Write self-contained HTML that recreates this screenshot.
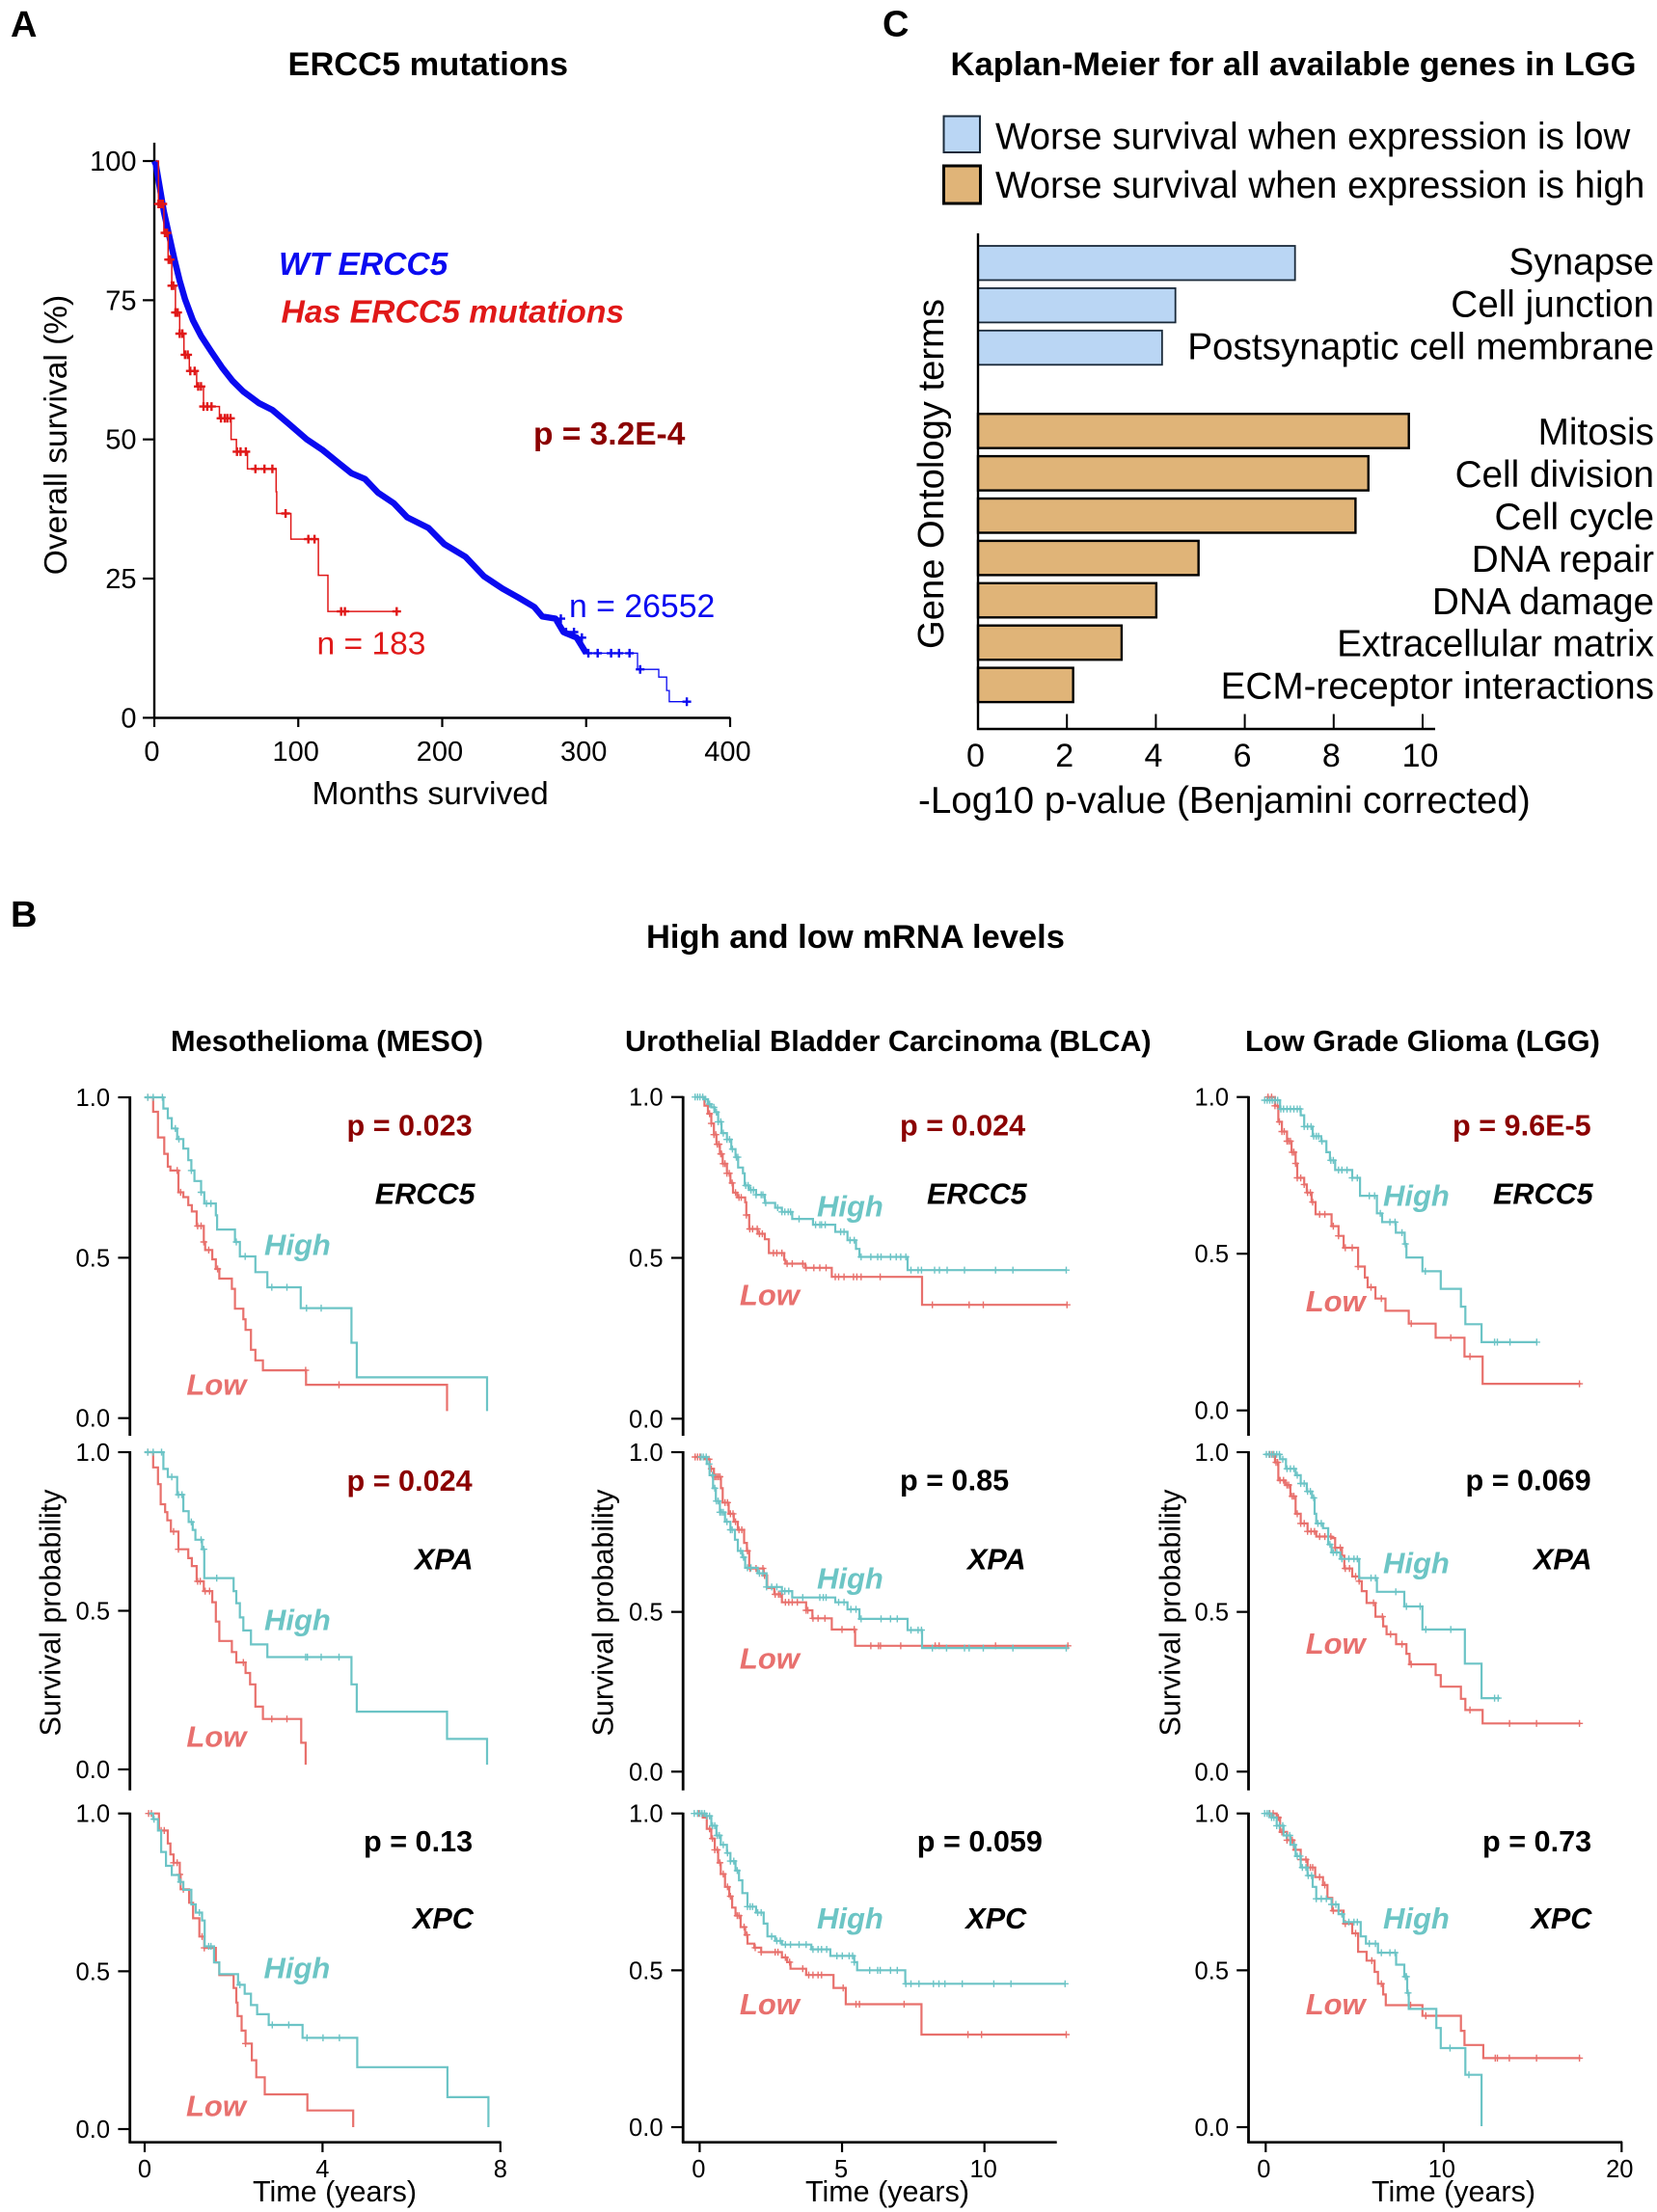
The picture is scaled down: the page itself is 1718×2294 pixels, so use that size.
<!DOCTYPE html>
<html lang="en">
<head>
<meta charset="utf-8">
<title>ERCC5 survival figure</title>
<style>
html,body{margin:0;padding:0;background:#fff;}
svg{display:block;font-family:"Liberation Sans",sans-serif;}
</style>
</head>
<body>
<svg id="fig" xmlns="http://www.w3.org/2000/svg" width="1718" height="2294" viewBox="0 0 1718 2294">
<rect x="0" y="0" width="1718" height="2294" fill="#fff"/>
<g>
<text x="11" y="38" font-size="38" font-weight="700">A</text>
<text x="298.5" y="78" font-size="34.4" font-weight="700">ERCC5 mutations</text>
<text x="289" y="285" font-size="33.6" font-weight="700" font-style="italic" fill="#0a0af0">WT ERCC5</text>
<text x="291.5" y="334.6" font-size="33.7" font-weight="700" font-style="italic" fill="#e01818">Has ERCC5 mutations</text>
<text x="553" y="461" font-size="33.5" font-weight="700" fill="#8b0000">p = 3.2E-4</text>
<text x="590" y="640" font-size="33.8" fill="#0a0af0">n = 26552</text>
<text x="328.5" y="678.5" font-size="33.6" fill="#e01818">n = 183</text>
<text x="323.5" y="834" font-size="33.7">Months survived</text>
<text transform="translate(69,451) rotate(-90)" text-anchor="middle" font-size="33.5">Overall survival (%)</text>
</g>
<g>
<text x="915" y="37.5" font-size="38" font-weight="700">C</text>
<text x="985.5" y="78" font-size="34.6" font-weight="700">Kaplan-Meier for all available genes in LGG</text>
<rect x="978.5" y="120.5" width="37.5" height="37.5" fill="#bad6f4" stroke="#1a2a3a" stroke-width="2"/>
<rect x="978.5" y="172" width="38" height="39" fill="#e0b478" stroke="#000" stroke-width="3"/>
<text x="1032" y="154.7" font-size="38.5">Worse survival when expression is low</text>
<text x="1032" y="205" font-size="38.5">Worse survival when expression is high</text>
<text x="952" y="843" font-size="38.6">-Log10 p-value (Benjamini corrected)</text>
<text transform="translate(978,491.5) rotate(-90)" text-anchor="middle" font-size="38.2">Gene Ontology terms</text>
</g>
<g>
<text x="11" y="961" font-size="38" font-weight="700">B</text>
<text x="670" y="983" font-size="34.5" font-weight="700">High and low mRNA levels</text>
<text x="177" y="1090" font-size="30.7" font-weight="700">Mesothelioma (MESO)</text>
<text x="648" y="1090" font-size="30.7" font-weight="700">Urothelial Bladder Carcinoma (BLCA)</text>
<text x="1291" y="1090" font-size="30.8" font-weight="700">Low Grade Glioma (LGG)</text>
<g font-size="30.6" font-weight="700" fill="#8b0000">
<text x="359.5" y="1177.7">p = 0.023</text>
<text x="359.5" y="1546">p = 0.024</text>
<text x="933" y="1177.7">p = 0.024</text>
<text x="1506" y="1177.7">p = 9.6E-5</text>
</g>
<g font-size="30.6" font-weight="700" fill="#000">
<text x="377" y="1920">p = 0.13</text>
<text x="933" y="1545.5">p = 0.85</text>
<text x="950.8" y="1920">p = 0.059</text>
<text x="1519.5" y="1545.5">p = 0.069</text>
<text x="1537" y="1920">p = 0.73</text>
</g>
<g font-size="30.6" font-weight="700" font-style="italic" fill="#000">
<text x="388.8" y="1248.3">ERCC5</text>
<text x="430" y="1627.7">XPA</text>
<text x="428" y="2000">XPC</text>
<text x="961" y="1248.3">ERCC5</text>
<text x="1003" y="1627.7">XPA</text>
<text x="1001.3" y="2000">XPC</text>
<text x="1548" y="1248.3">ERCC5</text>
<text x="1590" y="1627.7">XPA</text>
<text x="1587.5" y="2000">XPC</text>
</g>
<g font-size="31" font-weight="700" font-style="italic" fill="#6cc5c5">
<text x="274" y="1301.7">High</text>
<text x="274" y="1690.7">High</text>
<text x="273.5" y="2051.7">High</text>
<text x="847" y="1261.7">High</text>
<text x="847" y="1647.7">High</text>
<text x="847" y="2000">High</text>
<text x="1434" y="1250.7">High</text>
<text x="1434" y="1631.7">High</text>
<text x="1434" y="2000">High</text>
</g>
<g font-size="31" font-weight="700" font-style="italic" fill="#e8706e">
<text x="193.4" y="1446.7">Low</text>
<text x="193.4" y="1811.7">Low</text>
<text x="193" y="2194.3">Low</text>
<text x="766.9" y="1353.3">Low</text>
<text x="766.9" y="1730.7">Low</text>
<text x="766.9" y="2089">Low</text>
<text x="1353.7" y="1360">Low</text>
<text x="1353.7" y="1715">Low</text>
<text x="1353.7" y="2089">Low</text>
</g>
<g font-size="30.5">
<text transform="translate(62.4,1672.5) rotate(-90)" text-anchor="middle">Survival probability</text>
<text transform="translate(635.7,1672.5) rotate(-90)" text-anchor="middle">Survival probability</text>
<text transform="translate(1223.3,1672.5) rotate(-90)" text-anchor="middle">Survival probability</text>
</g>
<g font-size="30.5" text-anchor="middle">
<text x="347" y="2283">Time (years)</text>
<text x="920" y="2283">Time (years)</text>
<text x="1507" y="2283">Time (years)</text>
</g>
</g>
</svg>
<script>
/* ---------- Panel A: months vs % survival ---------- */
const aXTicks = [0, 100, 200, 300, 400];
const aYTicks = [0, 25, 50, 75, 100];
const wtBandMonths = [0, 1.1, 2.9, 6.6, 10.3, 14, 17.6, 21.3, 26.8, 32.4, 39.7, 47.1, 54.4, 61.8, 72.8, 82, 93, 105.9, 116.9, 127.9, 137.1, 146.3, 155.5, 166.5, 175.7, 190.4, 201.5, 216.2, 229, 241.9, 252.9, 264, 269.5, 278.7, 284.2, 293.4, 300];
const wtBandSurvival = [100, 99.4, 96.6, 90.9, 86.6, 82.3, 78.5, 75.2, 71.4, 68.6, 65.7, 62.9, 60.5, 58.6, 56.5, 55.3, 52.9, 50, 48.1, 45.8, 43.9, 42.9, 40.4, 38.5, 36, 34.1, 31.2, 28.9, 25.4, 23.2, 21.6, 19.9, 18.2, 17.8, 15.4, 14.4, 11.6];
const wtTailMonths = [300, 335.7, 350.4, 355.9, 357.7, 370.6];
const wtTailSurvival = [11.6, 8.7, 7.3, 4.9, 2.9, 2.9];
const wtTailCensored = [282.4, 286, 291.5, 297, 301.5, 308, 317.3, 322.8, 330.1, 337.5, 369.9];
const mutMonths = [1, 2.9, 6.6, 9.6, 12.1, 14.7, 17.6, 20.6, 24.3, 29.4, 34.2, 45.2, 53.3, 57, 64.7, 84.6, 85, 94.9, 114, 120.6, 169];
const mutSurvival = [100, 92.3, 87.1, 82.3, 77.6, 72.8, 69, 65.2, 62.3, 59.5, 55.9, 53.8, 50, 47.8, 44.7, 40.6, 36.7, 32.1, 25.6, 19.1, 19.1];
const mutCensored = [2.9, 4.4, 5.9, 7.4, 8.8, 9.9, 11, 12.1, 13.2, 14.7, 16.2, 17.6, 19.5, 21.3, 23.2, 25, 28, 30.5, 32.4, 34.2, 36.8, 39.7, 46.3, 48.9, 50.7, 52.9, 57.4, 59.9, 63.6, 70.2, 76.5, 82, 91.2, 107, 111.3, 129.8, 132.4, 168.4];

/* ---------- Panel C: gene ontology bars ---------- */
const goLowTerms = ["Synapse", "Cell junction", "Postsynaptic cell membrane"];
const goLowValues = [7.13, 4.44, 4.14];
const goHighTerms = ["Mitosis", "Cell division", "Cell cycle", "DNA repair", "DNA damage", "Extracellular matrix", "ECM-receptor interactions"];
const goHighValues = [9.69, 8.78, 8.49, 4.96, 4.01, 3.23, 2.14];
const goXTicks = [0, 2, 4, 6, 8, 10];

/* ---------- Panel B: Kaplan-Meier axes ---------- */
const kmYTicks = [0, 0.5, 1];
const mesoXTicks = [0, 4, 8];
const blcaXTicks = [0, 5, 10];
const lggXTicks = [0, 10, 20];

/* MESO ERCC5 */
const mesoErcc5HighT = [0, 0.42, 0.52, 0.61, 0.73, 0.87, 0.98, 1.05, 1.12, 1.27, 1.34, 1.60, 1.63, 2.03, 2.14, 2.49, 2.76, 3.51, 4.65, 4.77, 7.70];
const mesoErcc5HighS = [1, 0.965, 0.935, 0.903, 0.870, 0.840, 0.804, 0.772, 0.739, 0.704, 0.669, 0.632, 0.588, 0.549, 0.504, 0.455, 0.408, 0.343, 0.235, 0.127, 0.022];
const mesoErcc5HighC = [0.07, 0.19, 0.40, 0.69, 0.77, 1.05, 1.27, 1.39, 1.49, 2.06, 2.26, 2.86, 3.20, 3.64, 3.97];
const mesoErcc5LowT = [0.07, 0.19, 0.30, 0.44, 0.52, 0.58, 0.76, 0.87, 0.98, 1.06, 1.17, 1.33, 1.36, 1.52, 1.60, 1.68, 1.96, 2.03, 2.22, 2.27, 2.39, 2.49, 2.66, 3.63, 6.80];
const mesoErcc5LowS = [1, 0.955, 0.875, 0.824, 0.784, 0.772, 0.704, 0.689, 0.664, 0.644, 0.599, 0.549, 0.524, 0.495, 0.465, 0.435, 0.403, 0.341, 0.308, 0.275, 0.213, 0.180, 0.149, 0.104, 0.022];
const mesoErcc5LowC = [0.07, 0.73, 0.81, 1.19, 1.27, 1.33, 1.44, 1.64, 3.62, 4.37];

/* MESO XPA */
const mesoXpaHighT = [0, 0.42, 0.52, 0.73, 0.87, 0.99, 1.08, 1.14, 1.29, 1.34, 2.00, 2.06, 2.14, 2.22, 2.39, 2.76, 4.65, 4.77, 6.80, 7.70];
const mesoXpaHighS = [1, 0.947, 0.922, 0.866, 0.814, 0.780, 0.755, 0.724, 0.694, 0.603, 0.562, 0.524, 0.479, 0.438, 0.394, 0.354, 0.268, 0.182, 0.096, 0.015];
const mesoXpaHighC = [0.07, 0.19, 0.38, 0.61, 0.76, 0.84, 1.05, 1.27, 1.33, 1.62, 3.62, 3.66, 3.97, 4.37];
const mesoXpaLowT = [0.07, 0.19, 0.30, 0.36, 0.46, 0.51, 0.59, 0.76, 0.98, 1.06, 1.17, 1.33, 1.52, 1.60, 1.68, 1.96, 2.06, 2.27, 2.37, 2.49, 2.66, 3.52, 3.62];
const mesoXpaLowS = [1, 0.952, 0.899, 0.836, 0.811, 0.785, 0.750, 0.694, 0.666, 0.641, 0.593, 0.562, 0.527, 0.466, 0.405, 0.370, 0.337, 0.304, 0.268, 0.198, 0.159, 0.084, 0.015];
const mesoXpaLowC = [0.07, 0.65, 0.76, 1.19, 1.25, 1.36, 1.46, 2.22, 2.86, 3.20];

/* MESO XPC */
const mesoXpcHighT = [0.10, 0.19, 0.30, 0.37, 0.48, 0.61, 0.77, 0.87, 1.05, 1.15, 1.29, 1.35, 1.56, 1.68, 2.10, 2.25, 2.39, 2.53, 2.79, 3.55, 4.78, 6.81, 7.73];
const mesoXpcHighS = [1, 0.982, 0.946, 0.878, 0.834, 0.805, 0.783, 0.758, 0.712, 0.686, 0.661, 0.579, 0.528, 0.491, 0.457, 0.429, 0.393, 0.364, 0.330, 0.289, 0.196, 0.101, 0.006];
const mesoXpcHighC = [0.21, 0.81, 1.23, 1.44, 1.49, 2.14, 2.87, 3.24, 3.65, 4.01, 4.38];
const mesoXpcLowT = [0.07, 0.32, 0.52, 0.58, 0.65, 0.79, 0.81, 1.00, 1.09, 1.23, 1.34, 1.60, 1.68, 2.00, 2.06, 2.09, 2.18, 2.27, 2.41, 2.51, 2.70, 3.66, 4.69];
const mesoXpcLowS = [1, 0.946, 0.905, 0.870, 0.844, 0.807, 0.760, 0.717, 0.668, 0.610, 0.574, 0.528, 0.488, 0.447, 0.401, 0.358, 0.312, 0.271, 0.218, 0.164, 0.110, 0.059, 0.006];
const mesoXpcLowC = [0.09, 0.15, 0.37, 0.44, 0.65, 0.73, 0.79, 0.87, 1.29, 1.34, 2.27];

/* BLCA ERCC5 */
const blcaErcc5HighT = [-0.19, 0.17, 0.29, 0.41, 0.53, 0.65, 0.77, 0.96, 1.11, 1.26, 1.35, 1.52, 1.58, 1.74, 1.98, 2.29, 2.65, 2.89, 3.25, 3.98, 4.76, 5.19, 5.49, 5.61, 7.30, 12.87];
const blcaErcc5HighS = [1, 0.993, 0.978, 0.968, 0.953, 0.923, 0.888, 0.868, 0.838, 0.813, 0.781, 0.763, 0.725, 0.711, 0.696, 0.671, 0.656, 0.643, 0.621, 0.603, 0.581, 0.555, 0.528, 0.503, 0.462, 0.462];
const blcaErcc5HighC = [-0.16, -0.07, 0.01, 0.11, 0.21, 0.35, 0.50, 0.59, 0.65, 0.74, 0.83, 0.96, 1.05, 1.15, 1.29, 1.34, 1.62, 1.70, 1.80, 1.89, 1.98, 2.16, 2.22, 2.32, 2.74, 2.89, 2.99, 3.11, 3.19, 3.49, 4.07, 4.22, 4.28, 4.41, 4.95, 5.07, 5.28, 5.43, 5.67, 6.01, 6.25, 6.37, 6.70, 6.90, 7.06, 7.24, 7.42, 7.67, 7.79, 8.25, 8.42, 8.69, 9.30, 10.39, 11.0, 12.87];
const blcaErcc5LowT = [0.05, 0.17, 0.29, 0.41, 0.50, 0.59, 0.71, 0.81, 0.96, 1.08, 1.17, 1.32, 1.60, 1.64, 1.74, 2.04, 2.29, 2.43, 2.97, 3.01, 3.70, 4.64, 7.81, 12.90];
const blcaErcc5LowS = [1, 0.973, 0.948, 0.918, 0.883, 0.853, 0.823, 0.793, 0.763, 0.733, 0.703, 0.688, 0.673, 0.633, 0.590, 0.575, 0.558, 0.515, 0.494, 0.482, 0.469, 0.441, 0.354, 0.354];
const blcaErcc5LowC = [0.35, 0.41, 0.50, 0.57, 0.62, 0.68, 0.74, 0.77, 0.83, 0.89, 0.96, 1.04, 1.14, 1.26, 1.38, 1.46, 1.64, 1.76, 1.86, 2.02, 2.10, 2.20, 2.59, 2.71, 2.89, 3.07, 3.25, 3.62, 3.74, 4.01, 4.22, 4.44, 4.76, 4.88, 5.07, 5.40, 5.52, 5.67, 6.34, 8.17, 9.46, 9.96, 12.90];

/* BLCA XPA */
const blcaXpaHighT = [0.05, 0.25, 0.35, 0.47, 0.57, 0.71, 0.89, 1.08, 1.24, 1.34, 1.50, 1.60, 2.04, 2.35, 2.89, 3.25, 4.76, 5.19, 5.61, 7.30, 7.81, 12.87];
const blcaXpaHighS = [0.985, 0.963, 0.928, 0.887, 0.847, 0.812, 0.782, 0.757, 0.726, 0.691, 0.671, 0.638, 0.621, 0.578, 0.565, 0.545, 0.530, 0.508, 0.478, 0.443, 0.387, 0.387];
const blcaXpaHighC = [0.05, 0.13, 0.23, 0.33, 0.45, 0.53, 0.59, 0.65, 0.71, 0.77, 0.83, 0.96, 1.08, 1.14, 1.44, 1.54, 1.68, 1.80, 2.10, 2.22, 2.35, 2.53, 2.71, 2.89, 2.99, 3.13, 3.62, 4.22, 4.34, 4.44, 4.88, 5.07, 5.31, 5.49, 5.67, 6.37, 6.70, 6.94, 7.42, 7.67, 7.79, 8.17, 8.67, 9.30, 9.46, 9.96, 11.0, 12.87];
const blcaXpaLowT = [-0.19, 0.17, 0.35, 0.50, 0.75, 0.81, 1.02, 1.20, 1.34, 1.56, 1.66, 1.74, 2.25, 2.37, 2.62, 2.89, 3.74, 3.96, 4.64, 5.46, 12.93];
const blcaXpaLowS = [0.985, 0.978, 0.948, 0.923, 0.887, 0.842, 0.807, 0.782, 0.757, 0.716, 0.691, 0.636, 0.614, 0.575, 0.555, 0.530, 0.505, 0.480, 0.445, 0.394, 0.394];
const blcaXpaLowC = [-0.16, -0.07, 0.01, 0.33, 0.41, 0.53, 0.59, 0.65, 0.71, 0.89, 0.98, 1.08, 1.17, 1.26, 1.38, 1.48, 1.68, 1.77, 1.98, 2.22, 2.28, 2.65, 2.77, 2.83, 3.01, 3.13, 3.25, 3.43, 3.74, 3.80, 3.98, 4.16, 4.40, 5.00, 5.43, 6.01, 6.28, 6.35, 7.06, 8.27, 8.41, 10.39, 12.93];

/* BLCA XPC */
const blcaXpcHighT = [-0.19, 0.23, 0.41, 0.59, 0.74, 0.96, 1.08, 1.26, 1.38, 1.50, 1.68, 1.98, 2.25, 2.38, 2.65, 2.89, 3.92, 4.59, 5.43, 5.53, 7.22, 12.83];
const blcaXpcHighS = [1, 0.992, 0.961, 0.930, 0.900, 0.874, 0.848, 0.818, 0.787, 0.746, 0.703, 0.684, 0.649, 0.608, 0.594, 0.582, 0.567, 0.546, 0.526, 0.500, 0.457, 0.457];
const blcaXpcHighC = [-0.19, -0.07, 0.01, 0.08, 0.17, 0.25, 0.35, 0.45, 0.53, 0.62, 0.69, 0.83, 0.98, 1.08, 1.20, 1.32, 1.68, 1.77, 1.86, 2.04, 2.16, 2.53, 2.71, 2.83, 3.01, 3.19, 3.49, 3.74, 3.98, 4.16, 4.28, 4.46, 4.82, 5.01, 5.25, 5.37, 5.43, 5.97, 6.25, 6.34, 6.70, 6.94, 7.24, 7.42, 7.70, 8.21, 8.40, 8.61, 9.22, 10.33, 10.93, 12.83];
const blcaXpcLowT = [0, 0.11, 0.25, 0.41, 0.53, 0.65, 0.74, 0.89, 1.04, 1.14, 1.26, 1.44, 1.60, 1.68, 1.92, 2.16, 2.89, 3.07, 3.19, 3.74, 4.70, 5.13, 7.79, 12.87];
const blcaXpcLowS = [1, 0.987, 0.951, 0.920, 0.884, 0.843, 0.807, 0.766, 0.736, 0.700, 0.674, 0.638, 0.613, 0.585, 0.572, 0.558, 0.541, 0.526, 0.505, 0.485, 0.444, 0.392, 0.295, 0.295];
const blcaXpcLowC = [-0.04, 0.35, 0.45, 0.53, 0.62, 0.71, 0.83, 0.98, 1.08, 1.32, 1.38, 1.56, 1.66, 1.95, 2.16, 2.65, 2.75, 3.01, 3.16, 3.62, 3.83, 3.98, 4.16, 4.28, 5.04, 5.49, 5.61, 7.18, 9.42, 9.90, 12.87];

/* LGG ERCC5 */
const lggErcc5HighT = [-0.06, 0.81, 1.97, 2.16, 2.64, 3.12, 3.41, 3.61, 3.90, 4.86, 5.30, 6.25, 6.54, 7.31, 7.81, 7.91, 8.81, 9.84, 10.97, 11.22, 12.13, 15.27];
const lggErcc5HighS = [0.99, 0.962, 0.942, 0.906, 0.875, 0.859, 0.824, 0.798, 0.767, 0.742, 0.685, 0.629, 0.601, 0.567, 0.531, 0.488, 0.444, 0.388, 0.331, 0.275, 0.218, 0.218];
const lggErcc5HighC = [-0.06, 0.08, 0.23, 0.37, 0.52, 0.67, 0.85, 1.0, 1.20, 1.39, 1.58, 1.77, 1.93, 2.16, 2.35, 2.55, 2.70, 2.84, 2.97, 3.16, 3.66, 3.80, 4.09, 4.28, 4.57, 4.86, 5.15, 5.82, 6.12, 6.44, 6.98, 7.27, 7.66, 7.85, 8.97, 12.86, 13.02, 13.73, 15.23];
const lggErcc5LowT = [0.04, 0.52, 0.71, 0.91, 1.20, 1.45, 1.68, 1.77, 2.16, 2.31, 2.58, 2.80, 3.70, 4.09, 4.38, 5.19, 5.57, 5.73, 6.17, 6.73, 8.04, 9.55, 11.17, 12.19, 17.69];
const lggErcc5LowS = [1, 0.972, 0.921, 0.890, 0.859, 0.824, 0.788, 0.742, 0.721, 0.695, 0.665, 0.626, 0.588, 0.557, 0.519, 0.459, 0.424, 0.393, 0.357, 0.318, 0.277, 0.232, 0.172, 0.085, 0.085];
const lggErcc5LowC = [0.13, 0.33, 0.52, 0.66, 0.77, 0.91, 1.04, 1.20, 1.29, 1.39, 1.49, 1.58, 1.68, 1.77, 1.97, 2.16, 2.35, 2.51, 2.64, 3.03, 3.32, 3.80, 4.09, 4.47, 4.86, 5.19, 5.92, 6.50, 8.18, 10.40, 11.48, 17.63];

/* LGG XPA */
const lggXpaHighT = [-0.06, 0.81, 1.14, 1.68, 1.97, 2.31, 2.60, 2.75, 2.84, 3.22, 3.51, 3.70, 4.19, 5.25, 6.25, 7.79, 8.81, 11.19, 12.13, 13.15];
const lggXpaHighS = [0.993, 0.978, 0.948, 0.928, 0.902, 0.877, 0.857, 0.807, 0.777, 0.762, 0.711, 0.686, 0.666, 0.606, 0.563, 0.517, 0.445, 0.338, 0.230, 0.230];
const lggXpaHighC = [0.04, 0.19, 0.33, 0.46, 0.62, 0.77, 0.96, 1.20, 1.39, 1.58, 1.77, 1.97, 2.16, 2.35, 2.51, 2.70, 2.93, 3.12, 3.61, 3.80, 3.99, 4.28, 4.67, 4.96, 5.15, 5.92, 6.17, 7.31, 7.91, 8.68, 9.00, 10.40, 12.86, 13.06];
const lggXpaLowT = [0.04, 0.52, 0.71, 1.10, 1.39, 1.68, 1.97, 2.35, 2.84, 3.70, 3.90, 4.28, 4.42, 4.86, 5.25, 5.40, 5.67, 6.17, 6.60, 6.79, 7.33, 7.91, 8.08, 9.55, 9.84, 10.97, 11.22, 12.19, 17.69];
const lggXpaLowS = [0.993, 0.968, 0.912, 0.897, 0.862, 0.807, 0.777, 0.752, 0.736, 0.731, 0.701, 0.676, 0.636, 0.611, 0.596, 0.565, 0.528, 0.485, 0.455, 0.430, 0.399, 0.369, 0.336, 0.302, 0.266, 0.228, 0.193, 0.151, 0.151];
const lggXpaLowC = [0.23, 0.42, 0.58, 0.67, 0.81, 1.0, 1.20, 1.29, 1.49, 1.58, 1.77, 1.97, 2.16, 2.35, 2.55, 2.74, 3.03, 3.32, 3.66, 3.90, 4.19, 4.47, 4.71, 5.05, 5.25, 6.06, 6.56, 7.02, 7.66, 8.18, 11.48, 13.70, 15.22, 17.63];

/* LGG XPC */
const lggXpcHighT = [-0.06, 0.33, 0.62, 1.0, 1.39, 1.68, 1.97, 2.35, 2.64, 2.84, 3.70, 4.09, 4.38, 5.34, 5.63, 6.31, 7.33, 7.79, 7.95, 8.04, 9.59, 9.84, 11.22, 12.13];
const lggXpcHighS = [1, 0.987, 0.961, 0.930, 0.900, 0.864, 0.828, 0.802, 0.766, 0.728, 0.710, 0.679, 0.654, 0.608, 0.585, 0.556, 0.518, 0.480, 0.428, 0.377, 0.316, 0.252, 0.167, 0.003];
const lggXpcHighC = [-0.06, 0.08, 0.19, 0.33, 0.46, 0.62, 0.77, 0.96, 1.16, 1.35, 1.58, 1.77, 1.93, 2.06, 2.26, 2.39, 2.58, 2.84, 3.12, 3.41, 3.70, 3.94, 4.28, 4.67, 4.96, 5.15, 5.82, 6.17, 6.50, 6.98, 7.27, 7.85, 7.91, 8.00, 10.36, 11.42];
const lggXpcLowT = [0.13, 0.62, 0.81, 1.20, 1.58, 1.97, 2.35, 2.78, 3.22, 3.47, 3.74, 4.38, 4.86, 5.19, 5.67, 6.12, 6.31, 6.60, 6.75, 8.81, 10.97, 11.17, 12.23, 17.69];
const lggXpcLowS = [1, 0.987, 0.941, 0.915, 0.884, 0.853, 0.828, 0.797, 0.772, 0.731, 0.690, 0.649, 0.618, 0.559, 0.531, 0.495, 0.457, 0.423, 0.389, 0.355, 0.307, 0.262, 0.220, 0.220];
const lggXpcLowC = [0.23, 0.42, 0.71, 0.91, 1.20, 1.49, 1.68, 1.97, 2.26, 2.51, 2.64, 3.03, 3.32, 3.80, 4.47, 5.05, 5.96, 6.50, 8.14, 9.00, 12.90, 13.02, 13.69, 15.22, 17.63];

/* ---------- drawing helpers ---------- */
const svg = document.getElementById('fig');
const NS = 'http://www.w3.org/2000/svg';
function make(tag, parent, attrs) {
  const el = document.createElementNS(NS, tag);
  for (const k in attrs) el.setAttribute(k, attrs[k]);
  parent.appendChild(el);
  return el;
}
function line(parent, x1, y1, x2, y2, w, name) {
  const el = make('line', parent, {x1: x1, y1: y1, x2: x2, y2: y2, stroke: '#000', 'stroke-width': w});
  
  
  return el;
}
function label(parent, x, y, str, size, anchor, name) {
  const el = make('text', parent, {x: x, y: y, 'font-size': size, 'text-anchor': anchor});
  el.textContent = str;
  
  
  return el;
}
function stepPath(T, S, sx, sy) {
  let d = 'M' + sx(T[0]).toFixed(1) + ' ' + sy(S[0]).toFixed(1);
  for (let i = 1; i < T.length; i++) {
    d += 'H' + sx(T[i]).toFixed(1) + 'V' + sy(S[i]).toFixed(1);
  }
  return d;
}
function survivalAt(t, T, S) {
  let v = S[0];
  for (let i = 0; i < T.length; i++) { if (T[i] <= t) v = S[i]; }
  return v;
}
function censorMarks(parent, C, T, S, sx, sy, half, color, width, name) {
  C.forEach(function (t) {
    const x = sx(t), y = sy(survivalAt(t, T, S));
    const m = make('path', parent, {
      d: 'M' + (x - half).toFixed(1) + ' ' + y.toFixed(1) + 'h' + (2 * half) + 'M' + x.toFixed(1) + ' ' + (y - half).toFixed(1) + 'v' + (2 * half),
      stroke: color, 'stroke-width': width, fill: 'none'
    });
    
    
  });
}

/* ---------- Panel A ---------- */
(function () {
  const g = make('g', svg, {});
  
  
  const sx = function (m) { return 160 + m * 1.4925; };
  const sy = function (p) { return 744.4 - p * 5.774; };
  line(g, 160, 148, 160, 745.5, 2.4, 'panel-a-y-axis');
  line(g, 159, 744.5, 757, 744.5, 2.4, 'panel-a-x-axis');
  aYTicks.forEach(function (v) {
    line(g, 148, sy(v), 160, sy(v), 2.2, 'panel-a-y-tick');
    label(g, 141.5, sy(v) + 10, String(v), 29, 'end', 'panel-a-y-tick-label');
  });
  aXTicks.forEach(function (v) {
    line(g, sx(v), 744, sx(v), 754, 2.2, 'panel-a-x-tick');
    label(g, sx(v) - 2.5, 789, String(v), 29, 'middle', 'panel-a-x-tick-label');
  });
  const band = make('path', g, {
    d: wtBandMonths.map(function (m, i) { return (i ? 'L' : 'M') + sx(m).toFixed(1) + ' ' + sy(wtBandSurvival[i]).toFixed(1); }).join(''),
    fill: 'none', stroke: '#0a0af0', 'stroke-width': 6.5, 'stroke-linejoin': 'round'
  });
  
  
  const tail = make('path', g, {d: stepPath(wtTailMonths, wtTailSurvival, sx, sy), fill: 'none', stroke: '#0a0af0', 'stroke-width': 1.3});
  
  
  censorMarks(g, wtTailCensored, wtBandMonths.concat(wtTailMonths), wtBandSurvival.concat(wtTailSurvival), sx, sy, 4.5, '#0a0af0', 2.4, 'wt-censor-mark');
  const mut = make('path', g, {d: stepPath(mutMonths, mutSurvival, sx, sy), fill: 'none', stroke: '#e01818', 'stroke-width': 1.5});
  
  
  censorMarks(g, mutCensored, mutMonths, mutSurvival, sx, sy, 4.5, '#e01818', 2.4, 'mutated-censor-mark');
})();

/* ---------- Panel C ---------- */
(function () {
  const g = make('g', svg, {});
  
  
  const sx = function (v) { return 1014 + v * 46.1; };
  const barH = 35.5;
  function bars(terms, vals, top, fill, strokeW, stroke, name, textShift) {
    terms.forEach(function (term, i) {
      const y = top + i * 43.9;
      const r = make('rect', g, {x: sx(0), y: y, width: sx(vals[i]) - sx(0), height: barH, fill: fill, stroke: stroke, 'stroke-width': strokeW});
      
      
      label(g, 1715, y + textShift, term, 38.7, 'end', 'go-term-label');
    });
  }
  bars(goLowTerms, goLowValues, 255, '#bad6f4', 1.8, '#1a2a3a', 'go-bar-low', 29.6);
  bars(goHighTerms, goHighValues, 429.2, '#e0b478', 2.4, '#000', 'go-bar-high', 32);
  line(g, 1014, 242, 1014, 757, 2.4, 'panel-c-y-axis');
  line(g, 1013, 756, 1488, 756, 2.4, 'panel-c-x-axis');
  goXTicks.forEach(function (v) {
    line(g, sx(v), 740.5, sx(v), 756, 2, 'panel-c-x-tick');
    label(g, sx(v) - 2.5, 795, String(v), 34, 'middle', 'panel-c-x-tick-label');
  });
})();

/* ---------- Panel B ---------- */
const TEAL = '#6cc4c6';
const RED = '#e8706c';
function kmAxis(g, axisX, tickX, labelX, y1, y0, top, bottom, name) {
  const sy = function (s) { return y0 - s * (y0 - y1); };
  line(g, axisX, top - 1, axisX, bottom, 2.8, name + '-y-axis');
  kmYTicks.forEach(function (v) {
    line(g, tickX, sy(v), axisX, sy(v), 2.2, name + '-y-tick');
    label(g, labelX, sy(v) + 9, v.toFixed(1), 25.5, 'end', name + '-y-tick-label');
  });
  return sy;
}
function kmPanel(name, layout, highT, highS, highC, lowT, lowS, lowC) {
  const g = make('g', svg, {});
  
  
  const sy = kmAxis(g, layout.axisX, layout.axisX - 12.3, layout.labelX, layout.y1, layout.y0, layout.y1, layout.bottom, name);
  const sx = function (t) { return layout.x0 + t * layout.perYear; };
  const lo = make('path', g, {d: stepPath(lowT, lowS, sx, sy), fill: 'none', stroke: RED, 'stroke-width': 2.2});
  
  
  censorMarks(g, lowC, lowT, lowS, sx, sy, 3.6, RED, 1.4, name + '-low-censor');
  const hi = make('path', g, {d: stepPath(highT, highS, sx, sy), fill: 'none', stroke: TEAL, 'stroke-width': 2.2});
  
  
  censorMarks(g, highC, highT, highS, sx, sy, 3.6, TEAL, 1.4, name + '-high-censor');
}
const meso = {axisX: 134.7, labelX: 114, x0: 150, perYear: 46.1};
const blca = {axisX: 708.2, labelX: 687.5, x0: 725.4, perYear: 29.53};
const lgg = {axisX: 1294.5, labelX: 1274, x0: 1312.3, perYear: 18.45};
function at(col, y1, y0, bottom) { return Object.assign({}, col, {y1: y1, y0: y0, bottom: bottom}); }

kmPanel('km-meso-ercc5', at(meso, 1138, 1470.7, 1489), mesoErcc5HighT, mesoErcc5HighS, mesoErcc5HighC, mesoErcc5LowT, mesoErcc5LowS, mesoErcc5LowC);
kmPanel('km-meso-xpa', at(meso, 1506, 1835, 1856.7), mesoXpaHighT, mesoXpaHighS, mesoXpaHighC, mesoXpaLowT, mesoXpaLowS, mesoXpaLowC);
kmPanel('km-meso-xpc', at(meso, 1880.7, 2208, 2222), mesoXpcHighT, mesoXpcHighS, mesoXpcHighC, mesoXpcLowT, mesoXpcLowS, mesoXpcLowC);
kmPanel('km-blca-ercc5', at(blca, 1137.7, 1471.3, 1489), blcaErcc5HighT, blcaErcc5HighS, blcaErcc5HighC, blcaErcc5LowT, blcaErcc5LowS, blcaErcc5LowC);
kmPanel('km-blca-xpa', at(blca, 1506, 1837.3, 1856.7), blcaXpaHighT, blcaXpaHighS, blcaXpaHighC, blcaXpaLowT, blcaXpaLowS, blcaXpaLowC);
kmPanel('km-blca-xpc', at(blca, 1880.7, 2206, 2222), blcaXpcHighT, blcaXpcHighS, blcaXpcHighC, blcaXpcLowT, blcaXpcLowS, blcaXpcLowC);
kmPanel('km-lgg-ercc5', at(lgg, 1137.7, 1462.7, 1489), lggErcc5HighT, lggErcc5HighS, lggErcc5HighC, lggErcc5LowT, lggErcc5LowS, lggErcc5LowC);
kmPanel('km-lgg-xpa', at(lgg, 1506, 1837.3, 1856.7), lggXpaHighT, lggXpaHighS, lggXpaHighC, lggXpaLowT, lggXpaLowS, lggXpaLowC);
kmPanel('km-lgg-xpc', at(lgg, 1880.7, 2206, 2222), lggXpcHighT, lggXpcHighS, lggXpcHighC, lggXpcLowT, lggXpcLowS, lggXpcLowC);

/* shared time axes under the bottom row */
function timeAxis(name, col, ticks, end, labelShift) {
  const g = make('g', svg, {});
  
  
  line(g, col.axisX - 1.3, 2221.7, end, 2221.7, 2.6, name + '-line');
  ticks.forEach(function (v) {
    const x = col.x0 + v * col.perYear;
    line(g, x, 2221, x, 2232, 2.2, name + '-tick');
    label(g, x + labelShift, 2258, String(v), 25.5, 'middle', name + '-tick-label');
  });
}
timeAxis('time-axis-meso', meso, mesoXTicks, 519.5, 0);
timeAxis('time-axis-blca', blca, blcaXTicks, 1095.7, -1);
timeAxis('time-axis-lgg', lgg, lggXTicks, 1682, -2);
</script>
</body>
</html>
